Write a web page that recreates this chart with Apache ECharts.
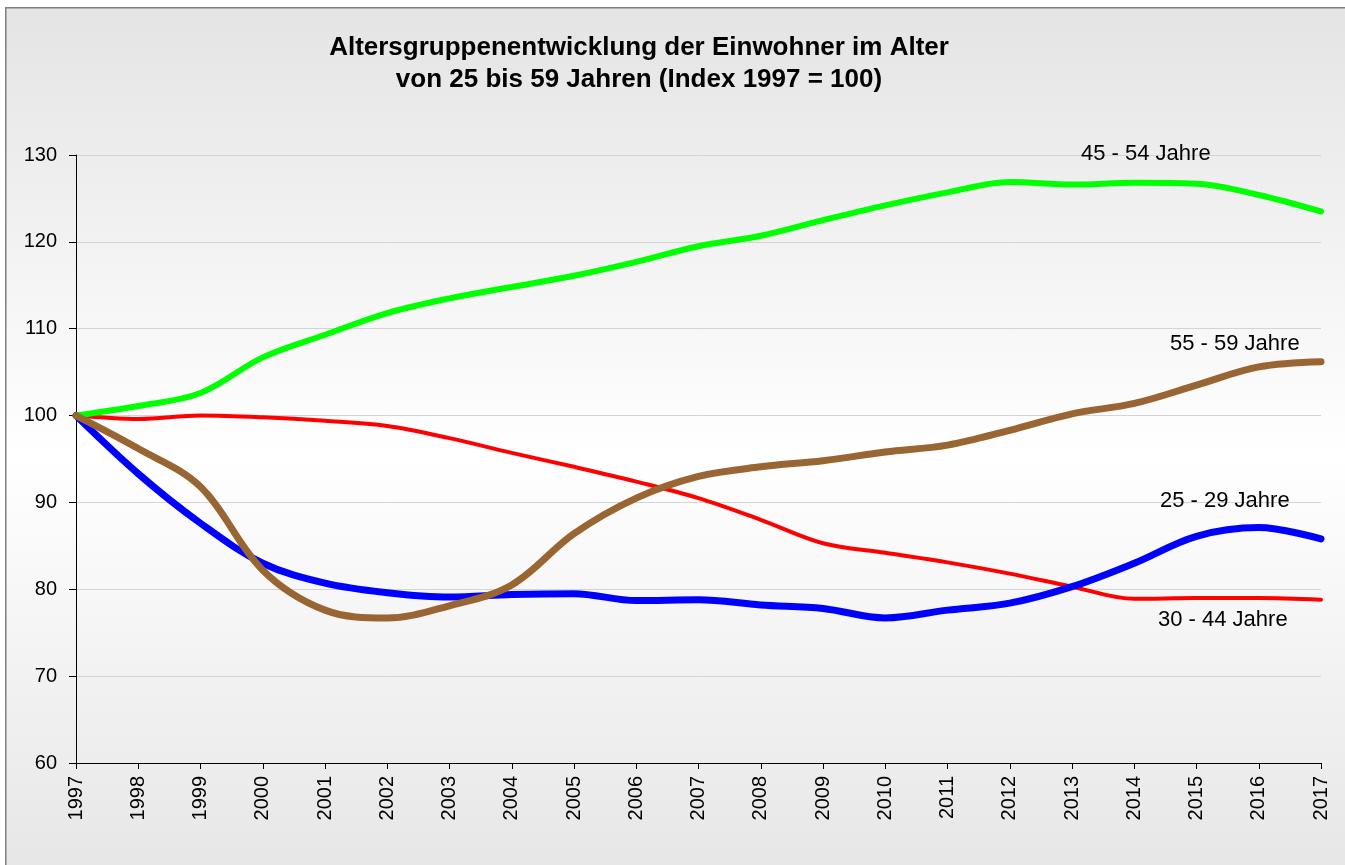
<!DOCTYPE html>
<html>
<head>
<meta charset="utf-8">
<title>Altersgruppenentwicklung</title>
<script src="https://cdn.jsdelivr.net/npm/echarts@6/dist/echarts.min.js"></script>
<style>
  html, body { margin: 0; padding: 0; background: #fff; }
  #myChart { width: 1345px; height: 865px; }
</style>
</head>
<body>
<div id="myChart"></div>
<script>
// Index 1997 = 100
var years = ['1997','1998','1999','2000','2001','2002','2003','2004','2005','2006','2007',
             '2008','2009','2010','2011','2012','2013','2014','2015','2016','2017'];

var age25to29 = [100, 93.3, 87.6, 83.0, 80.7, 79.6, 79.1, 79.4, 79.5, 78.7, 78.8,
                 78.2, 77.8, 76.7, 77.6, 78.4, 80.3, 83.0, 86.1, 87.1, 85.8];
var age30to44 = [100, 99.6, 100.0, 99.8, 99.4, 98.8, 97.4, 95.7, 94.1, 92.4, 90.5,
                 88.0, 85.3, 84.2, 83.1, 81.8, 80.3, 78.9, 79.0, 79.0, 78.8];
var age45to54 = [100, 101.1, 102.6, 106.7, 109.3, 111.8, 113.5, 114.8, 116.1, 117.7, 119.5,
                 120.7, 122.5, 124.2, 125.7, 126.9, 126.6, 126.8, 126.7, 125.4, 123.5];
var age55to59 = [100, 96.2, 91.8, 82.2, 77.6, 76.7, 78.1, 80.5, 86.4, 90.5, 93.0,
                 94.1, 94.8, 95.8, 96.6, 98.3, 100.2, 101.4, 103.5, 105.6, 106.2];

var seriesNames = ['25 - 29 Jahre', '30 - 44 Jahre', '45 - 54 Jahre', '55 - 59 Jahre'];
var yTicks = [60, 70, 80, 90, 100, 110, 120, 130];

var font = 'Liberation Sans, Arial, sans-serif';

function line(name, data, color, width){
  return {
    name: name,
    type: 'line',
    data: data,
    smooth: 0.35,
    symbol: 'none',
    lineStyle: { color: color, width: width, cap: 'round', join: 'round' },
    itemStyle: { color: color }
  };
}

function label(text, x, y){
  return {
    type: 'text', left: x, top: y, z: 100,
    style: { text: text, font: '22px ' + font, fill: '#000' }
  };
}

var option = {
  animation: false,
  title: {
    text: 'Altersgruppenentwicklung der Einwohner im Alter\nvon 25 bis 59 Jahren (Index 1997 = 100)',
    left: 634, top: 27, textAlign: 'center',
    textStyle: { fontFamily: font, fontWeight: 'bold', fontSize: 26, lineHeight: 32, color: '#000' }
  },
  graphic: [
    {
      type: 'rect', left: 5, top: 7, z: -10, silent: true,
      shape: { width: 1400, height: 900 },
      style: {
        stroke: '#7f7f7f', lineWidth: 1.5,
        fill: new echarts.graphic.LinearGradient(0, 0, 0, 1, [
          { offset: 0, color: '#e4e4e4' },
          { offset: 0.5, color: '#ffffff' },
          { offset: 1, color: '#e4e4e4' }
        ])
      }
    },
    label(seriesNames[2], 1081, 143),
    label(seriesNames[3], 1170, 333),
    label(seriesNames[0], 1160, 490),
    label(seriesNames[1], 1158, 609)
  ],
  grid: { left: 76, right: 24, top: 155, bottom: 102, containLabel: false },
  xAxis: {
    type: 'category',
    data: years,
    boundaryGap: false,
    axisLine: { lineStyle: { color: '#000', width: 1 } },
    axisTick: { show: true, length: 6, alignWithLabel: true, lineStyle: { color: '#000' } },
    axisLabel: { rotate: 90, margin: 13, fontFamily: font, fontSize: 20, color: '#000', interval: 0 },
    splitLine: { show: false }
  },
  yAxis: {
    type: 'value',
    min: yTicks[0], max: yTicks[yTicks.length - 1], interval: 10,
    axisLine: { show: true, lineStyle: { color: '#000', width: 1 } },
    axisTick: { show: true, length: 7, lineStyle: { color: '#000' } },
    axisLabel: { margin: 19, fontFamily: font, fontSize: 20, color: '#000' },
    splitLine: { show: true, lineStyle: { color: '#d4d4d4', width: 1 } }
  },
  series: [
    line(seriesNames[1], age30to44, '#ff0000', 4),
    line(seriesNames[0], age25to29, '#0000ff', 7),
    line(seriesNames[2], age45to54, '#00ff00', 6),
    line(seriesNames[3], age55to59, '#996633', 7)
  ]
};

var myChart = echarts.init(document.getElementById('myChart'));
myChart.setOption(option);
</script>
</body>
</html>
